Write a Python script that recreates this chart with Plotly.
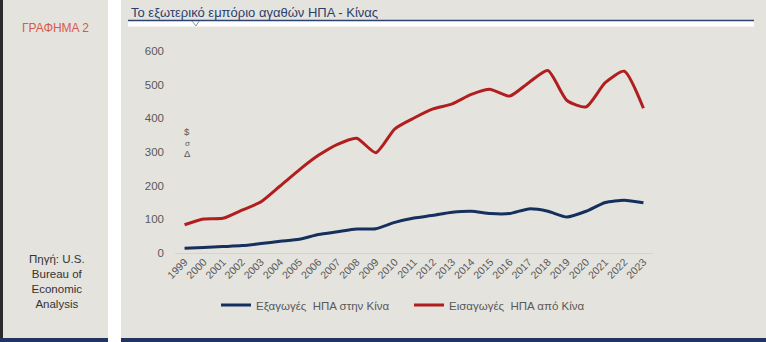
import plotly.graph_objects as go

years = list(range(1999, 2024))
exports_to_china = [14, 16, 19, 22, 28, 35, 41, 55, 63, 71, 72, 91, 104, 112, 121, 124, 117, 117, 131, 124, 107, 124, 150, 157, 149]
imports_from_china = [84, 101, 103, 127, 152, 199, 247, 290, 323, 341, 298, 369, 401, 428, 443, 471, 486, 466, 506, 542, 453, 434, 506, 540, 430]
y_ticks = [0, 100, 200, 300, 400, 500, 600]

W, H = 766, 342
PL, PR, PT, PB = 175, 653, 51, 253  # plot area in px

def px(x):
    return (x - PL) / (PR - PL)

def py(y):
    return (PB - y) / (PB - PT)

FONT = "Arial, Liberation Sans, sans-serif"
PANEL = "#e4e3de"
NAVY = "#1f3560"

fig = go.Figure()
fig.add_trace(go.Scatter(
    x=years, y=exports_to_china, mode="lines",
    name="Εξαγωγές\u00a0 ΗΠΑ στην Κίνα",
    line=dict(color="#16305e", width=3, shape="spline", smoothing=0.6),
))
fig.add_trace(go.Scatter(
    x=years, y=imports_from_china, mode="lines",
    name="Εισαγωγές\u00a0 ΗΠΑ από Κίνα",
    line=dict(color="#b01e1e", width=3, shape="spline", smoothing=0.6),
))

shapes = []
def rect(x0, y0, x1, y1, color, layer="below"):
    shapes.append(dict(type="rect", xref="paper", yref="paper",
                       x0=px(x0), x1=px(x1), y0=py(y1), y1=py(y0),
                       fillcolor=color, line=dict(width=0), layer=layer))

rect(0, 0, 108, 342, PANEL)
rect(121, 0, 766, 342, PANEL)
rect(0, 0, 3, 342, "#2b2b2b")
rect(0, 338, 108, 342, NAVY)
rect(121, 338, 766, 342, NAVY)
# title underline band
rect(128, 21, 754, 26.5, "#ffffff")
shapes.append(dict(type="line", xref="paper", yref="paper",
                   x0=px(128), x1=px(754), y0=py(20.5), y1=py(20.5),
                   line=dict(color="#2d4470", width=1.5), layer="below"))
# small notch under title
shapes.append(dict(type="path", xref="paper", yref="paper",
                   path=f"M {px(192)},{py(21)} L {px(196)},{py(26)} L {px(199)},{py(21)}",
                   line=dict(color="#8a94a8", width=1), layer="below"))

annotations = [
    dict(text="Το εξωτερικό εμπόριο αγαθών ΗΠΑ - Κίνας", xref="paper", yref="paper",
         x=px(129), y=py(12), xanchor="left", yanchor="middle", showarrow=False,
         font=dict(family=FONT, size=13, color="#2b3f6b")),
    dict(text="ΓΡΑΦΗΜΑ 2", xref="paper", yref="paper",
         x=px(55), y=py(28), xanchor="center", yanchor="middle", showarrow=False,
         font=dict(family=FONT, size=12, color="#d65a4c")),
    dict(text="Πηγή: U.S.<br>Bureau of<br>Economic<br>Analysis", xref="paper", yref="paper",
         x=px(57), y=py(281), xanchor="center", yanchor="middle", showarrow=False,
         align="center", font=dict(family=FONT, size=11.5, color="#333333")),
    dict(text="$", xref="paper", yref="paper", x=px(187), y=py(131),
         xanchor="center", yanchor="middle", showarrow=False,
         font=dict(family=FONT, size=9.5, color="#595959")),
    dict(text="σ", xref="paper", yref="paper", x=px(187), y=py(143),
         xanchor="center", yanchor="middle", showarrow=False,
         font=dict(family=FONT, size=8, color="#595959")),
    dict(text="Δ", xref="paper", yref="paper", x=px(187), y=py(153),
         xanchor="center", yanchor="middle", showarrow=False,
         font=dict(family=FONT, size=9.5, color="#595959")),
]

fig.update_layout(
    width=W, height=H,
    margin=dict(l=PL, r=W - PR, t=PT, b=H - PB, pad=0),
    paper_bgcolor="#ffffff",
    plot_bgcolor="rgba(0,0,0,0)",
    font=dict(family=FONT, color="#595959"),
    shapes=shapes,
    annotations=annotations,
    showlegend=True,
    legend=dict(orientation="h", x=px(216), y=py(305), xanchor="left", yanchor="middle",
                bgcolor="rgba(0,0,0,0)", font=dict(family=FONT, size=11.5, color="#595959"),
                entrywidth=148, entrywidthmode="pixels", itemwidth=30),
)
fig.update_xaxes(
    range=[1998.5, 2023.5], tickmode="array", tickvals=years,
    ticktext=[str(y) for y in years], tickangle=-45,
    tickfont=dict(family=FONT, size=10.5, color="#595959"),
    showgrid=False, zeroline=False, showline=False, ticks="",
)
fig.update_yaxes(
    range=[0, 600], tickvals=y_ticks, ticktext=[str(v) for v in y_ticks],
    tickfont=dict(family=FONT, size=11.5, color="#595959"),
    showgrid=False, zeroline=True, zerolinecolor="#d4d3cf", zerolinewidth=1,
    showline=False, ticks="", ticklabelstandoff=10,
)

fig.write_html("out.html")
